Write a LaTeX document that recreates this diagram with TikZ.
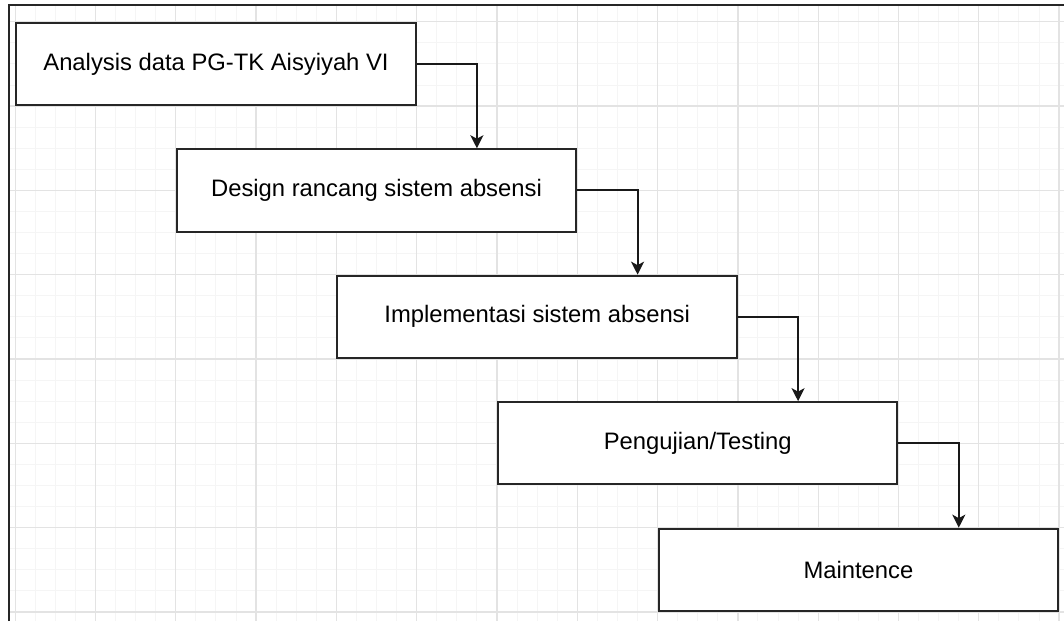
\documentclass[tikz,border=0pt]{standalone}
\usepackage{fontspec}
\setmainfont{Liberation Sans}
\usetikzlibrary{calc,arrows.meta}

\tikzset{
	phase/.style={draw=black!85, line width=2pt, fill=white, minimum width=399.5pt, minimum height=82.3pt, inner sep=0pt, font=\fontsize{23.8}{28}\selectfont},
	flow/.style={draw=black!90, line width=2pt, -{Stealth[length=13pt,width=13pt,inset=3.5pt]}},
}

\begin{document}
\begin{tikzpicture}[x=1pt, y=-1pt]
		%%%%% START %%%%%
		
		\useasboundingbox (0, 0) rectangle (1064, 621);
		\fill[white] (0, 0) rectangle (1064, 621);
		
		% minor grid
		\foreach \i in {0,...,52}
			\draw[line width=1pt, color=black!4] ({15.2+\i*20.075}, 6) -- ({15.2+\i*20.075}, 621);
		\foreach \j in {0,...,28}
			\draw[line width=1pt, color=black!4] (10, {21.8+\j*21.075}) -- (1064, {21.8+\j*21.075});
		
		% major grid
		\foreach \i in {0,...,13}
			\draw[line width=1.3pt, color=black!11] ({15.2+\i*80.3}, 6) -- ({15.2+\i*80.3}, 621);
		\foreach \j in {0,...,7}
			\draw[line width=1.3pt, color=black!11] (10, {21.8+\j*84.3}) -- (1064, {21.8+\j*84.3});
		
		% frame
		\draw[line width=2pt, color=black!85] (9, 621) -- (9, 5) -- (1064, 5);
		
		\node[phase] (ana) at (216, 64) {Analysis data PG-TK Aisyiyah VI};
		\node[phase] (des) at (376.5, 190.4) {Design rancang sistem absensi};
		\node[phase] (imp) at (537.2, 316.8) {Implementasi sistem absensi};
		\node[phase] (tes) at (697.7, 443.3) {Pengujian/Testing};
		\node[phase] (mnt) at (858.4, 569.8) {Maintence};
		
		\draw[flow] (ana.east) -| ($(des.north west)!0.75!(des.north east)$);
		\draw[flow] (des.east) -| ($(imp.north west)!0.75!(imp.north east)$);
		\draw[flow] (imp.east) -| ($(tes.north west)!0.75!(tes.north east)$);
		\draw[flow] (tes.east) -| ($(mnt.north west)!0.75!(mnt.north east)$);
		
		%%%%% END %%%%%
	\end{tikzpicture}
\end{document}
